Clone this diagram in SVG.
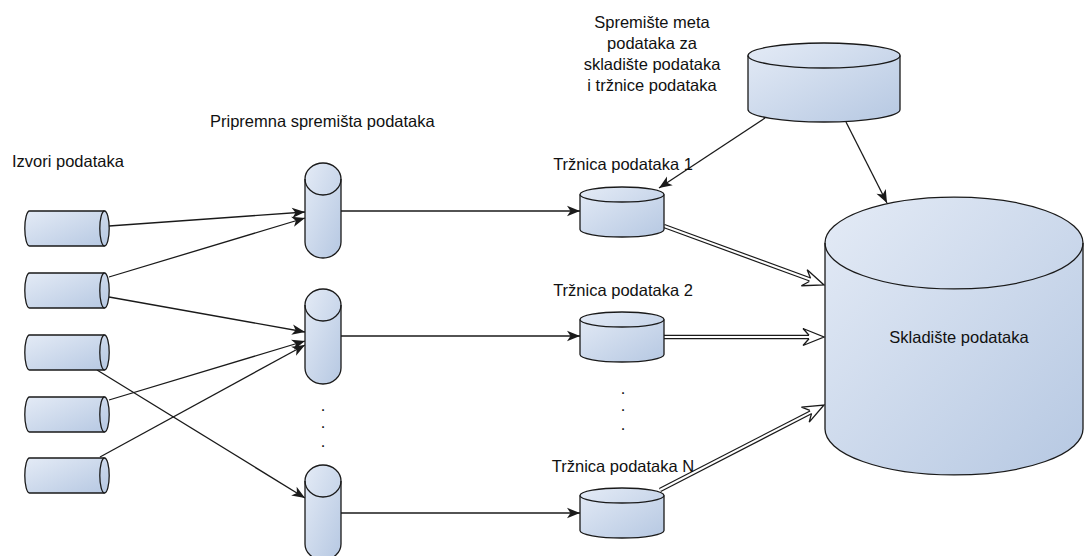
<svg xmlns="http://www.w3.org/2000/svg" xmlns:xlink="http://www.w3.org/1999/xlink" width="1084" height="556" viewBox="0 0 1084 556">
<style>
.cyl{fill:url(#g);stroke:#1a1a1a;stroke-width:1.3}
.in{fill:none;stroke:#1a1a1a;stroke-width:1.3}
.t{font-family:"Liberation Sans",Arial,sans-serif;font-size:16.5px;fill:#111}
.c{text-anchor:middle}
.ln{fill:none;stroke:#1a1a1a;stroke-width:1.3}
.arr{marker-end:url(#ah)}
.dbo{fill:none;stroke:#1a1a1a;stroke-width:4.4}
.dbi{fill:none;stroke:#fff;stroke-width:2}
.hh{fill:#fff;stroke:#1a1a1a;stroke-width:1.3;stroke-linejoin:miter}
</style>
<defs>
<linearGradient id="g" x1="0" y1="0" x2="1" y2="1">
<stop offset="0" stop-color="#e4ebf6"/>
<stop offset="1" stop-color="#b6c8e2"/>
</linearGradient>
<marker id="ah" markerUnits="userSpaceOnUse" markerWidth="15" markerHeight="12" refX="14" refY="6" orient="auto">
<path d="M1,0.8 L14,6 L1,11.2 L4.5,6 Z" fill="#1a1a1a"/>
</marker>
<path id="hollow" d="M-15,-1.8 L-21,-8.5 L0,0 L-21,8.5 L-15,1.8" class="hh"/>
<g id="src">
<path class="cyl" d="M29.5,0 L104.5,0 A4.7,17.5 0 0 1 104.5,35 L29.5,35 A4.7,17.5 0 0 1 29.5,0 Z"/>
<path class="in" d="M104.5,0 A4.7,17.5 0 0 0 104.5,35"/>
</g>
<g id="stg">
<path class="cyl" d="M305,16 A18,16 0 0 1 341,16 L341,79 A18,16 0 0 1 305,79 Z"/>
<path class="in" d="M305,16 A18,16 0 0 0 341,16"/>
</g>
<g id="mart">
<path class="cyl" d="M580,7.5 A42,7.5 0 0 1 664,7.5 L664,42.5 A42,7.5 0 0 1 580,42.5 Z"/>
<path class="in" d="M580,7.5 A42,7.5 0 0 0 664,7.5"/>
</g>
</defs>

<g id="connectors">
<path class="ln arr" d="M109,226 L305,212"/>
<path class="ln arr" d="M109,277 L305,218"/>
<path class="ln arr" d="M109,297 L305,332"/>
<path class="ln arr" d="M97,370 L305,498"/>
<path class="ln arr" d="M109,400 L305,341"/>
<path class="ln arr" d="M100,457 L305,345"/>
<path class="ln arr" d="M341,211 L580,211"/>
<path class="ln arr" d="M341,336 L580,336"/>
<path class="ln arr" d="M341,513 L580,513"/>
<path class="ln arr" d="M765,118 L659,188"/>
<path class="ln arr" d="M846,122 L887,203"/>
<path class="dbo" d="M664,226 L810.9,279.8"/>
<path class="dbi" d="M664,226 L811.5,280"/>
<use xlink:href="#hollow" transform="translate(824,285) rotate(20.1)"/>
<path class="dbo" d="M664,337 L810,337"/>
<path class="dbi" d="M664,337 L810.6,337"/>
<use xlink:href="#hollow" transform="translate(824,337)"/>
<path class="dbo" d="M660,490 L811.7,411.9"/>
<path class="dbi" d="M660,490 L812.2,411.6"/>
<use xlink:href="#hollow" transform="translate(824,405) rotate(-27.3)"/>
</g>

<g id="src1"><use xlink:href="#src" transform="translate(0,211)"/></g>
<g id="src2"><use xlink:href="#src" transform="translate(0,273)"/></g>
<g id="src3"><use xlink:href="#src" transform="translate(0,335)"/></g>
<g id="src4"><use xlink:href="#src" transform="translate(0,397)"/></g>
<g id="src5"><use xlink:href="#src" transform="translate(0,458)"/></g>

<g id="stage1"><use xlink:href="#stg" transform="translate(0,163)"/></g>
<g id="stage2"><use xlink:href="#stg" transform="translate(0,289)"/></g>
<g id="stage3"><use xlink:href="#stg" transform="translate(0,465)"/></g>

<g id="mart1"><use xlink:href="#mart" transform="translate(0,187)"/></g>
<g id="mart2"><use xlink:href="#mart" transform="translate(0,312)"/></g>
<g id="martN"><use xlink:href="#mart" transform="translate(0,488)"/></g>

<g id="meta">
<path class="cyl" d="M748,55.5 A76,12.5 0 0 1 900,55.5 L900,109.5 A76,12.5 0 0 1 748,109.5 Z"/>
<path class="in" d="M748,55.5 A76,12.5 0 0 0 900,55.5"/>
</g>

<g id="warehouse">
<path class="cyl" d="M825,243 A129,46 0 0 1 1083,243 L1083,429 A129,46 0 0 1 825,429 Z"/>
<path class="in" d="M825,243 A129,46 0 0 0 1083,243"/>
<text class="t c" x="959" y="343">Skladište podataka</text>
</g>

<g id="labels">
<text class="t" x="12" y="167">Izvori podataka</text>
<text class="t" x="210" y="127">Pripremna spremišta podataka</text>
<text class="t c" x="652" y="28">Spremište meta</text>
<text class="t c" x="652" y="49">podataka za</text>
<text class="t c" x="652" y="70">skladište podataka</text>
<text class="t c" x="652" y="91">i tržnice podataka</text>
<text class="t c" x="623" y="170">Tržnica podataka 1</text>
<text class="t c" x="623" y="296">Tržnica podataka 2</text>
<text class="t c" x="623" y="472">Tržnica podataka N</text>
<text class="t c" x="323"><tspan x="323" y="411">.</tspan><tspan x="323" y="428">.</tspan><tspan x="323" y="447">.</tspan></text>
<text class="t c" x="623"><tspan x="623" y="394">.</tspan><tspan x="623" y="411">.</tspan><tspan x="623" y="430">.</tspan></text>
</g>
</svg>
